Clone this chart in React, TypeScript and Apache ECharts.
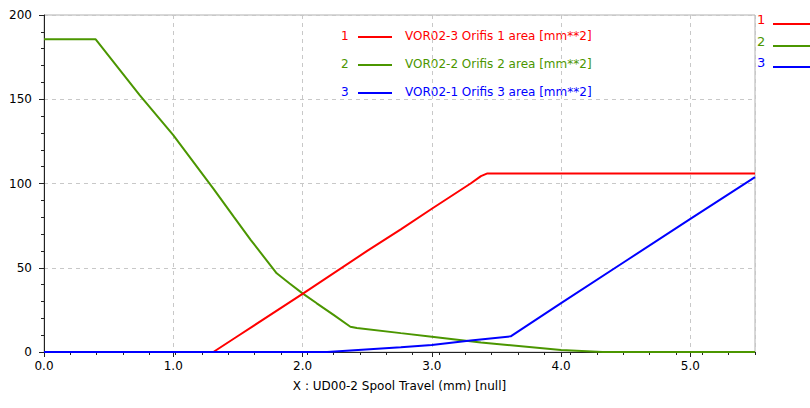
import React, { useEffect, useRef } from "react";
import * as echarts from "echarts";

const seriesNames = [
  "VOR02-3 Orifis 1 area [mm**2]",
  "VOR02-2 Orifis 2 area [mm**2]",
  "VOR02-1 Orifis 3 area [mm**2]",
];
const seriesColors = ["#ff0000", "#4b9600", "#0000ff"];

const orifis1: [number, number][] = [
  [0, 0], [1.31, 0], [1.5, 9.5], [2.0, 34.5], [2.5, 60], [2.76, 72.8],
  [3.0, 85], [3.3, 100], [3.38, 104.4], [3.43, 106], [5.5, 106],
];
const orifis2: [number, number][] = [
  [0, 185.6], [0.4, 185.6], [0.74, 152.4], [1.0, 128.7], [1.31, 97],
  [1.47, 80], [1.6, 66.4], [1.8, 46.7], [1.9, 40.7], [2.0, 34.8],
  [2.11, 28.9], [2.24, 22], [2.37, 15], [2.42, 14.2], [2.76, 11.2],
  [3.0, 9.1], [3.38, 5.6], [4.0, 1.2], [4.32, 0], [5.5, 0],
];
const orifis3: [number, number][] = [
  [0, 0], [2.19, 0], [2.76, 2.8], [3.0, 4.2], [3.3, 6.8], [3.61, 9.3],
  [4.0, 29], [4.5, 54], [5.0, 79], [5.5, 103.8],
];

const xAxisTitle = "X : UD00-2 Spool Travel (mm) [null]";
const FONT = "DejaVu Sans";
const AXIS_COLOR = "#222222";

export default function App() {
  const ref = useRef<HTMLDivElement>(null);
  useEffect(() => {
    if (!ref.current) return;
    const chart = echarts.init(ref.current, null, { renderer: "svg" });
    const legendRows = [37, 65, 93];
    const sideRows = [21, 43, 64];
    const graphics: any[] = [];
    seriesNames.forEach((name, i) => {
      graphics.push(
        { type: "text", left: 341, top: legendRows[i] - 7, style: { text: String(i + 1), fill: seriesColors[i], font: `12px '${FONT}'` } },
        { type: "line", shape: { x1: 358, y1: legendRows[i], x2: 392, y2: legendRows[i] }, style: { stroke: seriesColors[i], lineWidth: 2 } },
        { type: "text", left: 405, top: legendRows[i] - 7, style: { text: name, fill: seriesColors[i], font: `12px '${FONT}'` } },
        { type: "text", left: 757, top: sideRows[i] - 8, style: { text: String(i + 1), fill: seriesColors[i], font: `13px '${FONT}'` } },
        { type: "line", shape: { x1: 773, y1: sideRows[i] + 3, x2: 810, y2: sideRows[i] + 3 }, style: { stroke: seriesColors[i], lineWidth: 2 } }
      );
    });
    const datasets = [orifis2, orifis1, orifis3];
    const colorsOrder = [seriesColors[1], seriesColors[0], seriesColors[2]];
    const namesOrder = [seriesNames[1], seriesNames[0], seriesNames[2]];
    chart.setOption({
      animation: false,
      textStyle: { fontFamily: FONT },
      grid: { left: 44, top: 15, right: 55, bottom: 56, show: true, borderColor: "#b0b0b0", borderWidth: 1, backgroundColor: "#ffffff" },
      xAxis: [
        {
          type: "value", min: 0, max: 5.5, interval: 1,
          name: xAxisTitle, nameLocation: "middle", nameGap: 28,
          nameTextStyle: { color: "#000", fontSize: 12, fontFamily: FONT },
          axisLine: { show: true, lineStyle: { color: AXIS_COLOR, width: 1 } },
          axisTick: { show: true, inside: false, length: 5, lineStyle: { color: AXIS_COLOR, width: 1 } },
          axisLabel: { color: "#000", fontSize: 12, margin: 8, showMaxLabel: false, formatter: (v: number) => v.toFixed(1) },
          splitLine: { show: true, lineStyle: { color: "#c8c8c8", type: [4, 4] } },
        },
        {
          type: "value", min: 0, max: 5.4, interval: 0.2, position: "bottom",
          axisLine: { show: false },
          axisTick: { show: true, inside: false, length: 3, lineStyle: { color: AXIS_COLOR, width: 1 } },
          axisLabel: { show: false },
          splitLine: { show: false },
        },
      ],
      yAxis: {
        type: "value", min: 0, max: 200, interval: 50,
        axisLine: { show: true, lineStyle: { color: AXIS_COLOR, width: 1 } },
        axisTick: { show: true, inside: false, length: 5, lineStyle: { color: AXIS_COLOR, width: 1 } },
        minorTick: { show: true, splitNumber: 5, length: 3, lineStyle: { color: AXIS_COLOR, width: 1 } },
        axisLabel: { color: "#000", fontSize: 12, margin: 12 },
        splitLine: { show: true, lineStyle: { color: "#c8c8c8", type: [4, 4] } },
      },
      series: datasets.map((d, i) => ({
        type: "line", name: namesOrder[i], data: d, xAxisIndex: 0,
        showSymbol: false, symbol: "none",
        lineStyle: { color: colorsOrder[i], width: 2 },
        itemStyle: { color: colorsOrder[i] },
        z: 3 + i,
      })),
      graphic: graphics,
    });
    return () => chart.dispose();
  }, []);
  return <div ref={ref} style={{ position: "fixed", left: 0, top: 0, width: 810, height: 408, background: "#fff" }} />;
}
